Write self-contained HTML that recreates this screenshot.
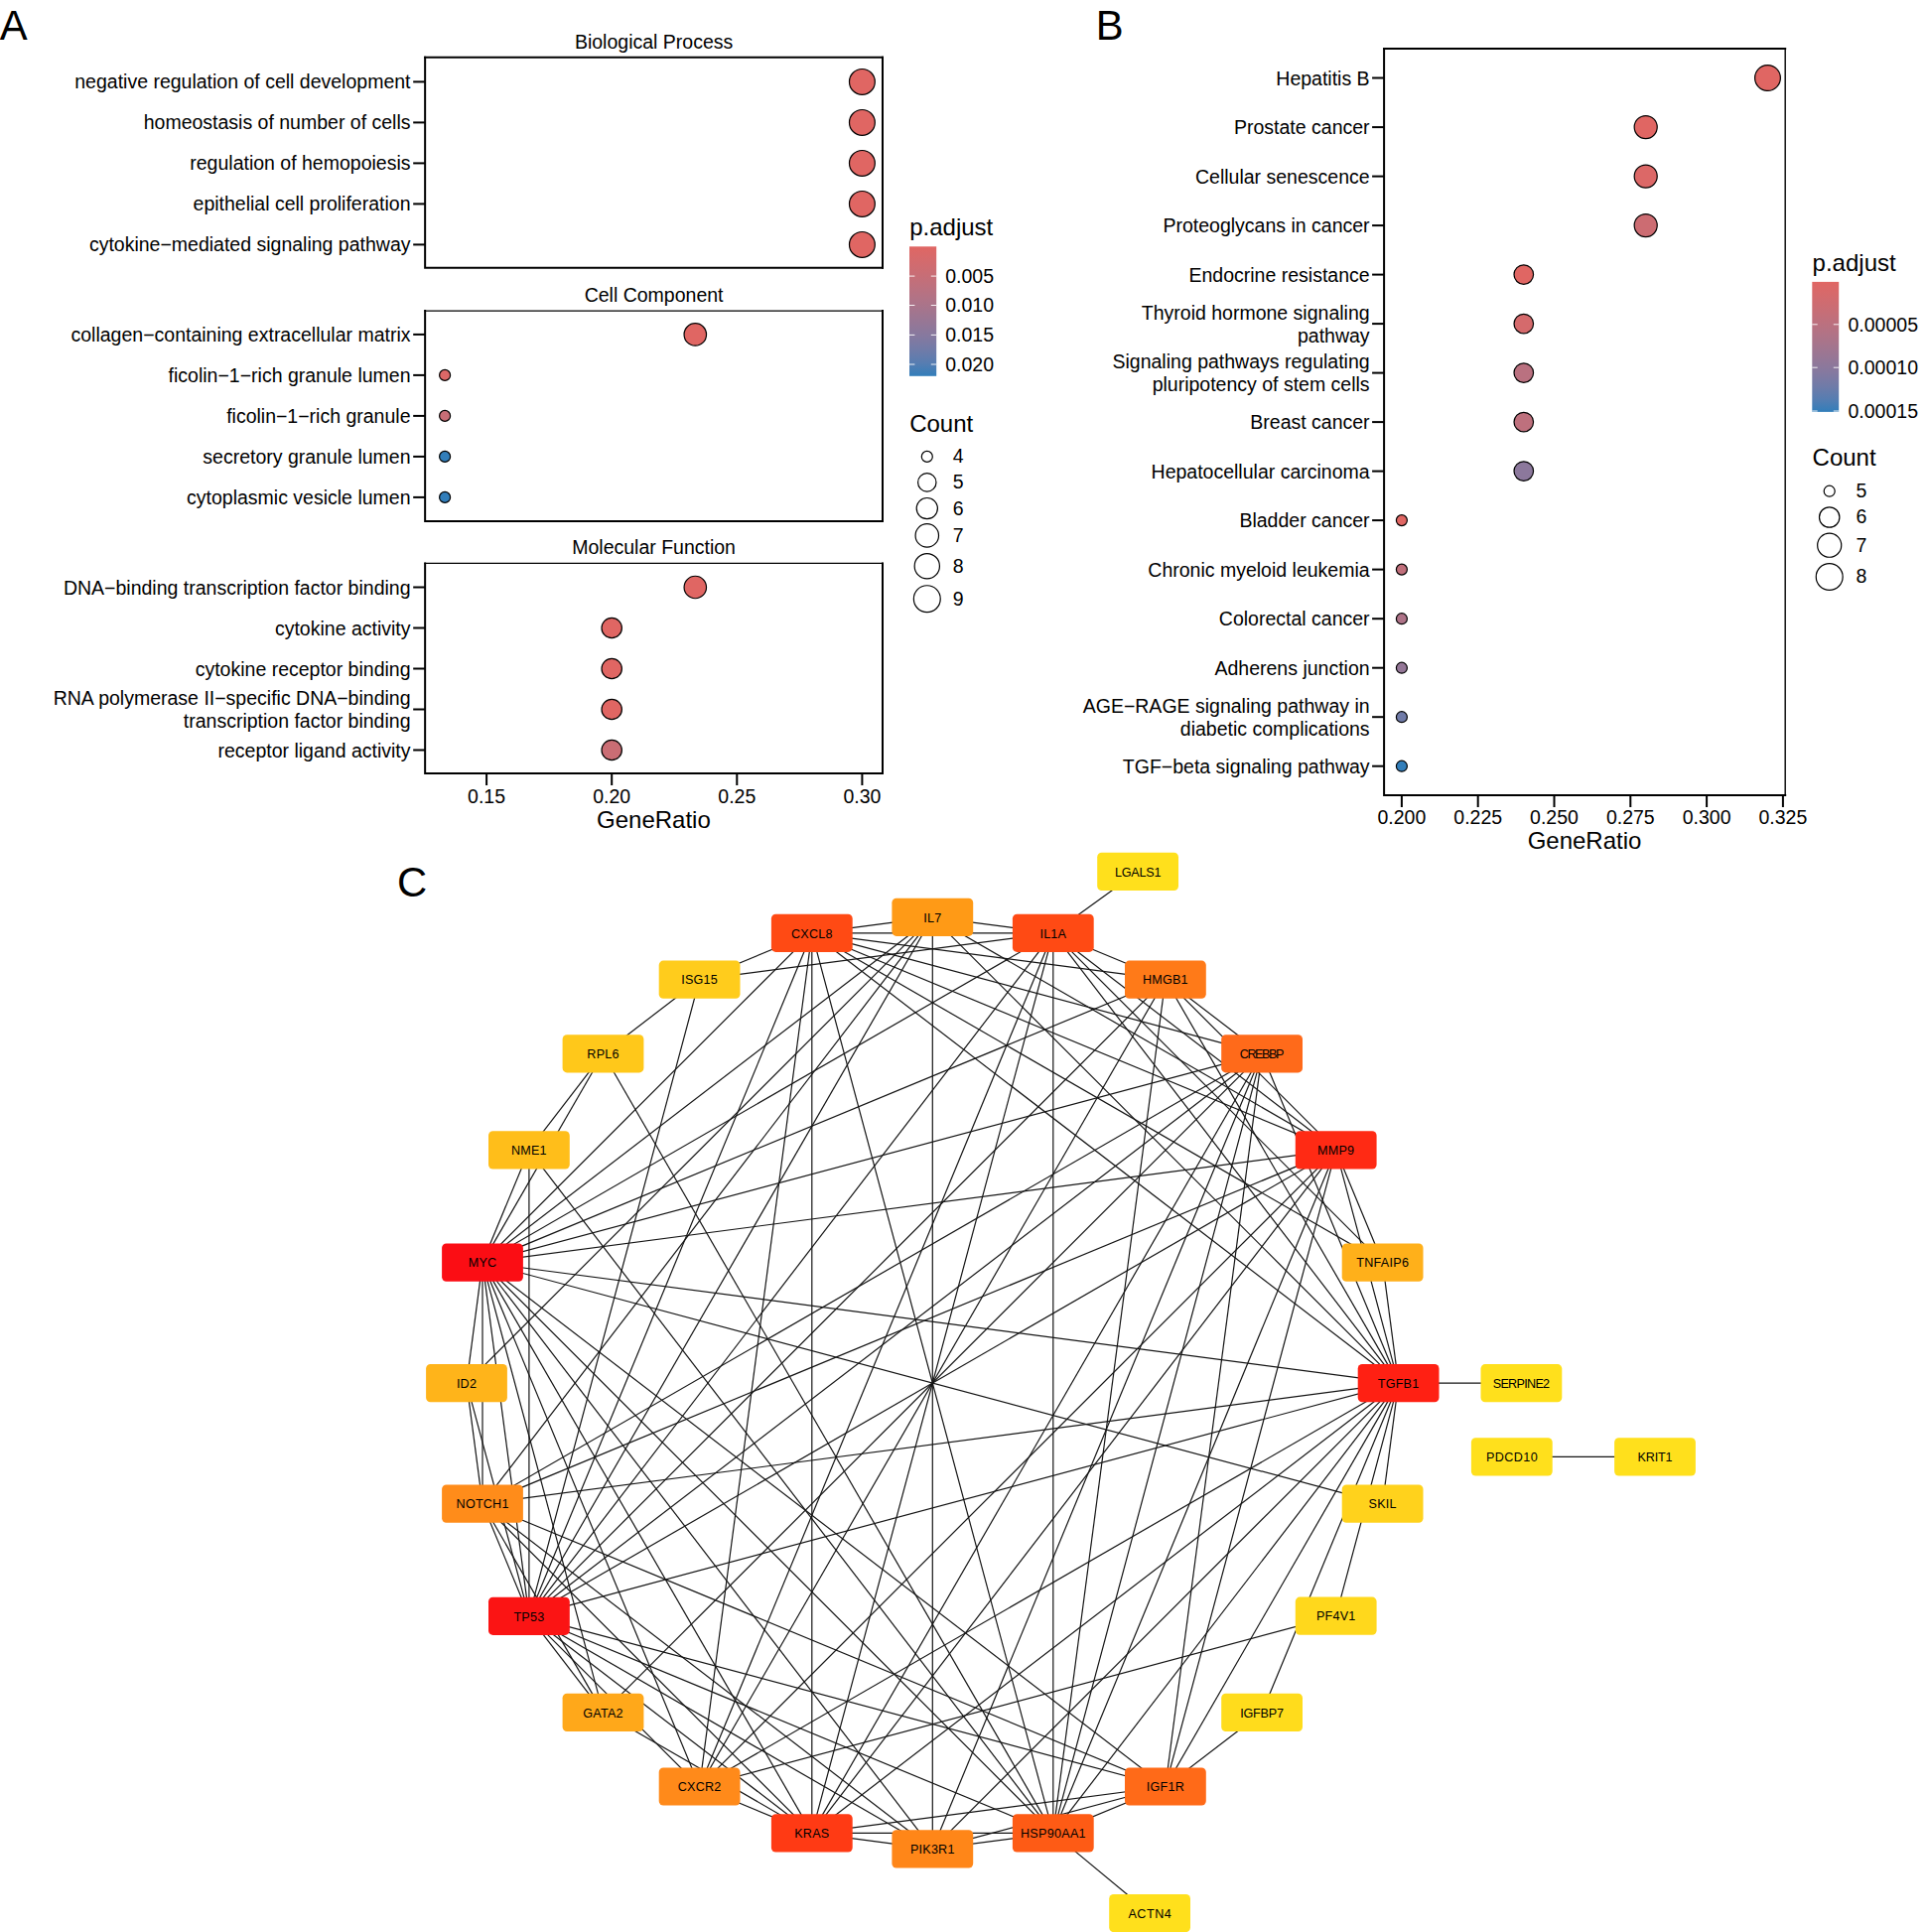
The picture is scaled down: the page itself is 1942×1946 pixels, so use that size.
<!DOCTYPE html>
<html><head><meta charset="utf-8"><title>Figure</title>
<style>html,body{margin:0;padding:0;background:#fff}svg{display:block}text{font-family:"Liberation Sans",Arial,Helvetica,sans-serif;fill:#000}</style>
</head><body>
<svg width="1942" height="1946" viewBox="0 0 1942 1946">
<rect width="1942" height="1946" fill="#fff"/>
<text x="-0.3" y="39.9" font-size="41.8" text-anchor="start" >A</text>
<text x="1103.8" y="39.9" font-size="41.8" text-anchor="start" >B</text>
<text x="400.0" y="903.1" font-size="41.8" text-anchor="start" >C</text>
<path d="M889.00,57.75 H428.15" stroke="#000" stroke-width="2.0" fill="none" stroke-linecap="square"/>
<path d="M889.00,57.75 V269.70" stroke="#000" stroke-width="2.0" fill="none" stroke-linecap="square"/>
<path d="M428.15,57.75 V269.70 H889.00" stroke="#000" stroke-width="2.0" fill="none" stroke-linecap="square" stroke-linejoin="miter"/>
<text x="658.6" y="48.5" font-size="19.5" text-anchor="middle" >Biological Process</text>
<line x1="416.2" y1="82.4" x2="428.1" y2="82.4" stroke="#000" stroke-width="2.0"/>
<text x="413.5" y="88.9" font-size="19.5" text-anchor="end" >negative regulation of cell development</text>
<circle cx="868.4" cy="82.4" r="12.90" fill="#e06663" stroke="#000" stroke-width="1.2"/>
<line x1="416.2" y1="123.4" x2="428.1" y2="123.4" stroke="#000" stroke-width="2.0"/>
<text x="413.5" y="129.9" font-size="19.5" text-anchor="end" >homeostasis of number of cells</text>
<circle cx="868.4" cy="123.4" r="12.90" fill="#e06663" stroke="#000" stroke-width="1.2"/>
<line x1="416.2" y1="164.4" x2="428.1" y2="164.4" stroke="#000" stroke-width="2.0"/>
<text x="413.5" y="170.9" font-size="19.5" text-anchor="end" >regulation of hemopoiesis</text>
<circle cx="868.4" cy="164.4" r="12.90" fill="#e06663" stroke="#000" stroke-width="1.2"/>
<line x1="416.2" y1="205.4" x2="428.1" y2="205.4" stroke="#000" stroke-width="2.0"/>
<text x="413.5" y="211.9" font-size="19.5" text-anchor="end" >epithelial cell proliferation</text>
<circle cx="868.4" cy="205.4" r="12.90" fill="#e06663" stroke="#000" stroke-width="1.2"/>
<line x1="416.2" y1="246.4" x2="428.1" y2="246.4" stroke="#000" stroke-width="2.0"/>
<text x="413.5" y="252.9" font-size="19.5" text-anchor="end" >cytokine−mediated signaling pathway</text>
<circle cx="868.4" cy="246.4" r="12.90" fill="#e06663" stroke="#000" stroke-width="1.2"/>
<path d="M889.00,313.10 H428.15" stroke="#000" stroke-width="1.3" fill="none" stroke-linecap="square"/>
<path d="M889.00,313.10 V524.90" stroke="#000" stroke-width="2.0" fill="none" stroke-linecap="square"/>
<path d="M428.15,313.10 V524.90 H889.00" stroke="#000" stroke-width="2.0" fill="none" stroke-linecap="square" stroke-linejoin="miter"/>
<text x="658.6" y="303.8" font-size="19.5" text-anchor="middle" >Cell Component</text>
<line x1="416.2" y1="336.9" x2="428.1" y2="336.9" stroke="#000" stroke-width="2.0"/>
<text x="413.5" y="343.9" font-size="19.5" text-anchor="end" >collagen−containing extracellular matrix</text>
<circle cx="700.3" cy="336.9" r="11.23" fill="#e06663" stroke="#000" stroke-width="1.2"/>
<line x1="416.2" y1="377.9" x2="428.1" y2="377.9" stroke="#000" stroke-width="2.0"/>
<text x="413.5" y="384.9" font-size="19.5" text-anchor="end" >ficolin−1−rich granule lumen</text>
<circle cx="448.1" cy="377.9" r="5.50" fill="#dc6867" stroke="#000" stroke-width="1.2"/>
<line x1="416.2" y1="418.9" x2="428.1" y2="418.9" stroke="#000" stroke-width="2.0"/>
<text x="413.5" y="425.9" font-size="19.5" text-anchor="end" >ficolin−1−rich granule</text>
<circle cx="448.1" cy="418.9" r="5.50" fill="#c86e76" stroke="#000" stroke-width="1.2"/>
<line x1="416.2" y1="459.9" x2="428.1" y2="459.9" stroke="#000" stroke-width="2.0"/>
<text x="413.5" y="466.9" font-size="19.5" text-anchor="end" >secretory granule lumen</text>
<circle cx="448.1" cy="459.9" r="5.50" fill="#327eba" stroke="#000" stroke-width="1.2"/>
<line x1="416.2" y1="500.9" x2="428.1" y2="500.9" stroke="#000" stroke-width="2.0"/>
<text x="413.5" y="507.9" font-size="19.5" text-anchor="end" >cytoplasmic vesicle lumen</text>
<circle cx="448.1" cy="500.9" r="5.50" fill="#327eba" stroke="#000" stroke-width="1.2"/>
<path d="M889.00,567.40 H428.15" stroke="#000" stroke-width="1.3" fill="none" stroke-linecap="square"/>
<path d="M889.00,567.40 V779.00" stroke="#000" stroke-width="2.0" fill="none" stroke-linecap="square"/>
<path d="M428.15,567.40 V779.00 H889.00" stroke="#000" stroke-width="2.0" fill="none" stroke-linecap="square" stroke-linejoin="miter"/>
<text x="658.6" y="558.1" font-size="19.5" text-anchor="middle" >Molecular Function</text>
<line x1="416.2" y1="591.5" x2="428.1" y2="591.5" stroke="#000" stroke-width="2.0"/>
<text x="413.5" y="598.8" font-size="19.5" text-anchor="end" >DNA−binding transcription factor binding</text>
<circle cx="700.3" cy="591.5" r="11.23" fill="#e06663" stroke="#000" stroke-width="1.2"/>
<line x1="416.2" y1="632.5" x2="428.1" y2="632.5" stroke="#000" stroke-width="2.0"/>
<text x="413.5" y="639.8" font-size="19.5" text-anchor="end" >cytokine activity</text>
<circle cx="616.2" cy="632.5" r="10.18" fill="#e06663" stroke="#000" stroke-width="1.2"/>
<line x1="416.2" y1="673.5" x2="428.1" y2="673.5" stroke="#000" stroke-width="2.0"/>
<text x="413.5" y="680.8" font-size="19.5" text-anchor="end" >cytokine receptor binding</text>
<circle cx="616.2" cy="673.5" r="10.18" fill="#e06663" stroke="#000" stroke-width="1.2"/>
<line x1="416.2" y1="714.5" x2="428.1" y2="714.5" stroke="#000" stroke-width="2.0"/>
<text x="413.5" y="710.3" font-size="19.5" text-anchor="end" >RNA polymerase II−specific DNA−binding</text>
<text x="413.5" y="733.3" font-size="19.5" text-anchor="end" >transcription factor binding</text>
<circle cx="616.2" cy="714.5" r="10.18" fill="#e06663" stroke="#000" stroke-width="1.2"/>
<line x1="416.2" y1="755.5" x2="428.1" y2="755.5" stroke="#000" stroke-width="2.0"/>
<text x="413.5" y="762.8" font-size="19.5" text-anchor="end" >receptor ligand activity</text>
<circle cx="616.2" cy="755.5" r="10.18" fill="#ca6d74" stroke="#000" stroke-width="1.2"/>
<line x1="490.1" y1="779.0" x2="490.1" y2="791.0" stroke="#000" stroke-width="2.0"/>
<text x="490.1" y="808.7" font-size="19.5" text-anchor="middle" >0.15</text>
<line x1="616.2" y1="779.0" x2="616.2" y2="791.0" stroke="#000" stroke-width="2.0"/>
<text x="616.2" y="808.7" font-size="19.5" text-anchor="middle" >0.20</text>
<line x1="742.3" y1="779.0" x2="742.3" y2="791.0" stroke="#000" stroke-width="2.0"/>
<text x="742.3" y="808.7" font-size="19.5" text-anchor="middle" >0.25</text>
<line x1="868.4" y1="779.0" x2="868.4" y2="791.0" stroke="#000" stroke-width="2.0"/>
<text x="868.4" y="808.7" font-size="19.5" text-anchor="middle" >0.30</text>
<text x="658.4" y="833.7" font-size="24.0" text-anchor="middle" >GeneRatio</text>
<defs><linearGradient id="g" x1="0" y1="0" x2="0" y2="1"><stop offset="0.0" stop-color="#e06663"/><stop offset="0.1" stop-color="#d56a6c"/><stop offset="0.2" stop-color="#ca6d74"/><stop offset="0.3" stop-color="#be707d"/><stop offset="0.4" stop-color="#b17386"/><stop offset="0.5" stop-color="#a3758e"/><stop offset="0.6" stop-color="#947797"/><stop offset="0.7" stop-color="#8479a0"/><stop offset="0.8" stop-color="#707ba8"/><stop offset="0.9" stop-color="#577db1"/><stop offset="1.0" stop-color="#327eba"/></linearGradient></defs>
<text x="916.2" y="236.5" font-size="24.0" text-anchor="start" >p.adjust</text>
<rect x="916" y="248.3" width="27.2" height="130.5" fill="url(#g)"/>
<line x1="916" x2="921.4" y1="278.1" y2="278.1" stroke="#fff" stroke-width="0.9"/>
<line x1="937.8" x2="943.2" y1="278.1" y2="278.1" stroke="#fff" stroke-width="0.9"/>
<text x="952.2" y="284.9" font-size="19.5" text-anchor="start" >0.005</text>
<line x1="916" x2="921.4" y1="307.5" y2="307.5" stroke="#fff" stroke-width="0.9"/>
<line x1="937.8" x2="943.2" y1="307.5" y2="307.5" stroke="#fff" stroke-width="0.9"/>
<text x="952.2" y="314.3" font-size="19.5" text-anchor="start" >0.010</text>
<line x1="916" x2="921.4" y1="337.4" y2="337.4" stroke="#fff" stroke-width="0.9"/>
<line x1="937.8" x2="943.2" y1="337.4" y2="337.4" stroke="#fff" stroke-width="0.9"/>
<text x="952.2" y="344.2" font-size="19.5" text-anchor="start" >0.015</text>
<line x1="916" x2="921.4" y1="367.0" y2="367.0" stroke="#fff" stroke-width="0.9"/>
<line x1="937.8" x2="943.2" y1="367.0" y2="367.0" stroke="#fff" stroke-width="0.9"/>
<text x="952.2" y="373.8" font-size="19.5" text-anchor="start" >0.020</text>
<text x="916.2" y="434.6" font-size="24.0" text-anchor="start" >Count</text>
<circle cx="933.8" cy="459.9" r="5.50" fill="#fff" stroke="#000" stroke-width="1.2"/>
<text x="959.8" y="466.3" font-size="19.5" text-anchor="start" >4</text>
<circle cx="933.8" cy="485.9" r="9.19" fill="#fff" stroke="#000" stroke-width="1.2"/>
<text x="959.8" y="492.3" font-size="19.5" text-anchor="start" >5</text>
<circle cx="933.8" cy="512.1" r="10.61" fill="#fff" stroke="#000" stroke-width="1.2"/>
<text x="959.8" y="518.5" font-size="19.5" text-anchor="start" >6</text>
<circle cx="933.8" cy="539.4" r="11.71" fill="#fff" stroke="#000" stroke-width="1.2"/>
<text x="959.8" y="545.8" font-size="19.5" text-anchor="start" >7</text>
<circle cx="933.8" cy="570.2" r="12.63" fill="#fff" stroke="#000" stroke-width="1.2"/>
<text x="959.8" y="576.6" font-size="19.5" text-anchor="start" >8</text>
<circle cx="933.8" cy="603.2" r="13.44" fill="#fff" stroke="#000" stroke-width="1.2"/>
<text x="959.8" y="609.6" font-size="19.5" text-anchor="start" >9</text>
<path d="M1798.20,48.90 H1394.10" stroke="#000" stroke-width="2.0" fill="none" stroke-linecap="square"/>
<path d="M1798.20,48.90 V801.00" stroke="#000" stroke-width="1.4" fill="none" stroke-linecap="square"/>
<path d="M1394.10,48.90 V801.00 H1798.20" stroke="#000" stroke-width="2.0" fill="none" stroke-linecap="square" stroke-linejoin="miter"/>
<line x1="1382.1" y1="78.5" x2="1394.1" y2="78.5" stroke="#000" stroke-width="2.0"/>
<text x="1379.6" y="85.5" font-size="19.5" text-anchor="end" >Hepatitis B</text>
<circle cx="1780.5" cy="78.5" r="12.90" fill="#e06663" stroke="#000" stroke-width="1.2"/>
<line x1="1382.1" y1="128.1" x2="1394.1" y2="128.1" stroke="#000" stroke-width="2.0"/>
<text x="1379.6" y="135.1" font-size="19.5" text-anchor="end" >Prostate cancer</text>
<circle cx="1657.7" cy="128.1" r="11.54" fill="#e06663" stroke="#000" stroke-width="1.2"/>
<line x1="1382.1" y1="177.6" x2="1394.1" y2="177.6" stroke="#000" stroke-width="2.0"/>
<text x="1379.6" y="184.6" font-size="19.5" text-anchor="end" >Cellular senescence</text>
<circle cx="1657.7" cy="177.6" r="11.54" fill="#dc6867" stroke="#000" stroke-width="1.2"/>
<line x1="1382.1" y1="227.1" x2="1394.1" y2="227.1" stroke="#000" stroke-width="2.0"/>
<text x="1379.6" y="234.1" font-size="19.5" text-anchor="end" >Proteoglycans in cancer</text>
<circle cx="1657.7" cy="227.1" r="11.54" fill="#cc6c72" stroke="#000" stroke-width="1.2"/>
<line x1="1382.1" y1="276.6" x2="1394.1" y2="276.6" stroke="#000" stroke-width="2.0"/>
<text x="1379.6" y="283.6" font-size="19.5" text-anchor="end" >Endocrine resistance</text>
<circle cx="1534.8" cy="276.6" r="9.77" fill="#e06663" stroke="#000" stroke-width="1.2"/>
<line x1="1382.1" y1="326.1" x2="1394.1" y2="326.1" stroke="#000" stroke-width="2.0"/>
<text x="1379.6" y="321.6" font-size="19.5" text-anchor="end" >Thyroid hormone signaling</text>
<text x="1379.6" y="344.6" font-size="19.5" text-anchor="end" >pathway</text>
<circle cx="1534.8" cy="326.1" r="9.77" fill="#d56a6c" stroke="#000" stroke-width="1.2"/>
<line x1="1382.1" y1="375.6" x2="1394.1" y2="375.6" stroke="#000" stroke-width="2.0"/>
<text x="1379.6" y="371.1" font-size="19.5" text-anchor="end" >Signaling pathways regulating</text>
<text x="1379.6" y="394.1" font-size="19.5" text-anchor="end" >pluripotency of stem cells</text>
<circle cx="1534.8" cy="375.6" r="9.77" fill="#ba7180" stroke="#000" stroke-width="1.2"/>
<line x1="1382.1" y1="425.1" x2="1394.1" y2="425.1" stroke="#000" stroke-width="2.0"/>
<text x="1379.6" y="432.1" font-size="19.5" text-anchor="end" >Breast cancer</text>
<circle cx="1534.8" cy="425.1" r="9.77" fill="#be707d" stroke="#000" stroke-width="1.2"/>
<line x1="1382.1" y1="474.6" x2="1394.1" y2="474.6" stroke="#000" stroke-width="2.0"/>
<text x="1379.6" y="481.6" font-size="19.5" text-anchor="end" >Hepatocellular carcinoma</text>
<circle cx="1534.8" cy="474.6" r="9.77" fill="#8c789c" stroke="#000" stroke-width="1.2"/>
<line x1="1382.1" y1="524.1" x2="1394.1" y2="524.1" stroke="#000" stroke-width="2.0"/>
<text x="1379.6" y="531.1" font-size="19.5" text-anchor="end" >Bladder cancer</text>
<circle cx="1411.9" cy="524.1" r="5.50" fill="#e06663" stroke="#000" stroke-width="1.2"/>
<line x1="1382.1" y1="573.6" x2="1394.1" y2="573.6" stroke="#000" stroke-width="2.0"/>
<text x="1379.6" y="580.6" font-size="19.5" text-anchor="end" >Chronic myeloid leukemia</text>
<circle cx="1411.9" cy="573.6" r="5.50" fill="#c06f7b" stroke="#000" stroke-width="1.2"/>
<line x1="1382.1" y1="623.2" x2="1394.1" y2="623.2" stroke="#000" stroke-width="2.0"/>
<text x="1379.6" y="630.2" font-size="19.5" text-anchor="end" >Colorectal cancer</text>
<circle cx="1411.9" cy="623.2" r="5.50" fill="#ae7388" stroke="#000" stroke-width="1.2"/>
<line x1="1382.1" y1="672.7" x2="1394.1" y2="672.7" stroke="#000" stroke-width="2.0"/>
<text x="1379.6" y="679.7" font-size="19.5" text-anchor="end" >Adherens junction</text>
<circle cx="1411.9" cy="672.7" r="5.50" fill="#947797" stroke="#000" stroke-width="1.2"/>
<line x1="1382.1" y1="722.2" x2="1394.1" y2="722.2" stroke="#000" stroke-width="2.0"/>
<text x="1379.6" y="717.7" font-size="19.5" text-anchor="end" >AGE−RAGE signaling pathway in</text>
<text x="1379.6" y="740.7" font-size="19.5" text-anchor="end" >diabetic complications</text>
<circle cx="1411.9" cy="722.2" r="5.50" fill="#707ba8" stroke="#000" stroke-width="1.2"/>
<line x1="1382.1" y1="771.7" x2="1394.1" y2="771.7" stroke="#000" stroke-width="2.0"/>
<text x="1379.6" y="778.7" font-size="19.5" text-anchor="end" >TGF−beta signaling pathway</text>
<circle cx="1411.9" cy="771.7" r="5.50" fill="#327eba" stroke="#000" stroke-width="1.2"/>
<line x1="1411.9" y1="801.0" x2="1411.9" y2="813.0" stroke="#000" stroke-width="2.0"/>
<text x="1411.9" y="830.0" font-size="19.5" text-anchor="middle" >0.200</text>
<line x1="1488.7" y1="801.0" x2="1488.7" y2="813.0" stroke="#000" stroke-width="2.0"/>
<text x="1488.7" y="830.0" font-size="19.5" text-anchor="middle" >0.225</text>
<line x1="1565.5" y1="801.0" x2="1565.5" y2="813.0" stroke="#000" stroke-width="2.0"/>
<text x="1565.5" y="830.0" font-size="19.5" text-anchor="middle" >0.250</text>
<line x1="1642.3" y1="801.0" x2="1642.3" y2="813.0" stroke="#000" stroke-width="2.0"/>
<text x="1642.3" y="830.0" font-size="19.5" text-anchor="middle" >0.275</text>
<line x1="1719.1" y1="801.0" x2="1719.1" y2="813.0" stroke="#000" stroke-width="2.0"/>
<text x="1719.1" y="830.0" font-size="19.5" text-anchor="middle" >0.300</text>
<line x1="1795.9" y1="801.0" x2="1795.9" y2="813.0" stroke="#000" stroke-width="2.0"/>
<text x="1795.9" y="830.0" font-size="19.5" text-anchor="middle" >0.325</text>
<text x="1596.0" y="855.0" font-size="24.0" text-anchor="middle" >GeneRatio</text>
<text x="1825.6" y="272.7" font-size="24.0" text-anchor="start" >p.adjust</text>
<rect x="1825.3" y="283.9" width="26.9" height="131" fill="url(#g)"/>
<line x1="1825.3" x2="1830.7" y1="326.8" y2="326.8" stroke="#fff" stroke-width="0.9"/>
<line x1="1846.8" x2="1852.2" y1="326.8" y2="326.8" stroke="#fff" stroke-width="0.9"/>
<text x="1861.5" y="333.6" font-size="19.5" text-anchor="start" >0.00005</text>
<line x1="1825.3" x2="1830.7" y1="370.2" y2="370.2" stroke="#fff" stroke-width="0.9"/>
<line x1="1846.8" x2="1852.2" y1="370.2" y2="370.2" stroke="#fff" stroke-width="0.9"/>
<text x="1861.5" y="377.0" font-size="19.5" text-anchor="start" >0.00010</text>
<line x1="1825.3" x2="1830.7" y1="414.0" y2="414.0" stroke="#fff" stroke-width="0.9"/>
<line x1="1846.8" x2="1852.2" y1="414.0" y2="414.0" stroke="#fff" stroke-width="0.9"/>
<text x="1861.5" y="420.8" font-size="19.5" text-anchor="start" >0.00015</text>
<text x="1825.6" y="469.2" font-size="24.0" text-anchor="start" >Count</text>
<circle cx="1842.7" cy="494.7" r="5.50" fill="#fff" stroke="#000" stroke-width="1.2"/>
<text x="1869.4" y="501.1" font-size="19.5" text-anchor="start" >5</text>
<circle cx="1842.7" cy="521.0" r="10.19" fill="#fff" stroke="#000" stroke-width="1.2"/>
<text x="1869.4" y="527.4" font-size="19.5" text-anchor="start" >6</text>
<circle cx="1842.7" cy="549.2" r="12.03" fill="#fff" stroke="#000" stroke-width="1.2"/>
<text x="1869.4" y="555.6" font-size="19.5" text-anchor="start" >7</text>
<circle cx="1842.7" cy="581.0" r="13.44" fill="#fff" stroke="#000" stroke-width="1.2"/>
<text x="1869.4" y="587.4" font-size="19.5" text-anchor="start" >8</text>
<g stroke="#151515" stroke-width="1.2">
<line x1="1158.1" y1="1927.0" x2="1060.8" y2="1846.4"/>
<line x1="1271.1" y1="1061.3" x2="817.8" y2="939.8"/>
<line x1="1271.1" y1="1061.3" x2="607.5" y2="1724.9"/>
<line x1="1271.1" y1="1061.3" x2="1173.9" y2="986.7"/>
<line x1="1271.1" y1="1061.3" x2="1060.8" y2="1846.4"/>
<line x1="1271.1" y1="1061.3" x2="1173.9" y2="1799.5"/>
<line x1="1271.1" y1="1061.3" x2="817.8" y2="1846.4"/>
<line x1="1271.1" y1="1061.3" x2="486.0" y2="1271.6"/>
<line x1="1271.1" y1="1061.3" x2="486.0" y2="1514.6"/>
<line x1="1271.1" y1="1061.3" x2="939.3" y2="1862.4"/>
<line x1="1271.1" y1="1061.3" x2="1408.6" y2="1393.1"/>
<line x1="1271.1" y1="1061.3" x2="532.9" y2="1627.8"/>
<line x1="817.8" y1="939.8" x2="704.6" y2="1799.5"/>
<line x1="817.8" y1="939.8" x2="1173.9" y2="986.7"/>
<line x1="817.8" y1="939.8" x2="1060.8" y2="1846.4"/>
<line x1="817.8" y1="939.8" x2="1060.8" y2="939.8"/>
<line x1="817.8" y1="939.8" x2="939.3" y2="923.8"/>
<line x1="817.8" y1="939.8" x2="704.6" y2="986.7"/>
<line x1="817.8" y1="939.8" x2="817.8" y2="1846.4"/>
<line x1="817.8" y1="939.8" x2="1345.7" y2="1158.4"/>
<line x1="817.8" y1="939.8" x2="486.0" y2="1271.6"/>
<line x1="817.8" y1="939.8" x2="1408.6" y2="1393.1"/>
<line x1="817.8" y1="939.8" x2="1392.6" y2="1271.6"/>
<line x1="817.8" y1="939.8" x2="532.9" y2="1627.8"/>
<line x1="704.6" y1="1799.5" x2="1173.9" y2="986.7"/>
<line x1="704.6" y1="1799.5" x2="1060.8" y2="939.8"/>
<line x1="704.6" y1="1799.5" x2="817.8" y2="1846.4"/>
<line x1="704.6" y1="1799.5" x2="1345.7" y2="1158.4"/>
<line x1="704.6" y1="1799.5" x2="486.0" y2="1271.6"/>
<line x1="704.6" y1="1799.5" x2="1345.7" y2="1627.7"/>
<line x1="704.6" y1="1799.5" x2="1408.6" y2="1393.1"/>
<line x1="704.6" y1="1799.5" x2="532.9" y2="1627.8"/>
<line x1="607.5" y1="1724.9" x2="817.8" y2="1846.4"/>
<line x1="607.5" y1="1724.9" x2="486.0" y2="1271.6"/>
<line x1="607.5" y1="1724.9" x2="486.0" y2="1514.6"/>
<line x1="607.5" y1="1724.9" x2="532.9" y2="1627.8"/>
<line x1="1173.9" y1="986.7" x2="1060.8" y2="1846.4"/>
<line x1="1173.9" y1="986.7" x2="1060.8" y2="939.8"/>
<line x1="1173.9" y1="986.7" x2="1345.7" y2="1158.4"/>
<line x1="1173.9" y1="986.7" x2="486.0" y2="1271.6"/>
<line x1="1173.9" y1="986.7" x2="1408.6" y2="1393.1"/>
<line x1="1173.9" y1="986.7" x2="532.9" y2="1627.8"/>
<line x1="1060.8" y1="1846.4" x2="1173.9" y2="1799.5"/>
<line x1="1060.8" y1="1846.4" x2="1060.8" y2="939.8"/>
<line x1="1060.8" y1="1846.4" x2="817.8" y2="1846.4"/>
<line x1="1060.8" y1="1846.4" x2="1345.7" y2="1158.4"/>
<line x1="1060.8" y1="1846.4" x2="486.0" y2="1271.6"/>
<line x1="1060.8" y1="1846.4" x2="532.9" y2="1158.4"/>
<line x1="1060.8" y1="1846.4" x2="939.3" y2="1862.4"/>
<line x1="1060.8" y1="1846.4" x2="607.5" y2="1061.3"/>
<line x1="1060.8" y1="1846.4" x2="1408.6" y2="1393.1"/>
<line x1="1060.8" y1="1846.4" x2="532.9" y2="1627.8"/>
<line x1="470.0" y1="1393.1" x2="939.3" y2="923.8"/>
<line x1="470.0" y1="1393.1" x2="486.0" y2="1271.6"/>
<line x1="470.0" y1="1393.1" x2="486.0" y2="1514.6"/>
<line x1="470.0" y1="1393.1" x2="532.9" y2="1627.8"/>
<line x1="1173.9" y1="1799.5" x2="1271.1" y2="1724.9"/>
<line x1="1173.9" y1="1799.5" x2="817.8" y2="1846.4"/>
<line x1="1173.9" y1="1799.5" x2="1345.7" y2="1158.4"/>
<line x1="1173.9" y1="1799.5" x2="486.0" y2="1271.6"/>
<line x1="1173.9" y1="1799.5" x2="486.0" y2="1514.6"/>
<line x1="1173.9" y1="1799.5" x2="939.3" y2="1862.4"/>
<line x1="1173.9" y1="1799.5" x2="1408.6" y2="1393.1"/>
<line x1="1173.9" y1="1799.5" x2="532.9" y2="1627.8"/>
<line x1="1271.1" y1="1724.9" x2="1408.6" y2="1393.1"/>
<line x1="1060.8" y1="939.8" x2="939.3" y2="923.8"/>
<line x1="1060.8" y1="939.8" x2="704.6" y2="986.7"/>
<line x1="1060.8" y1="939.8" x2="817.8" y2="1846.4"/>
<line x1="1060.8" y1="939.8" x2="1146.2" y2="877.9"/>
<line x1="1060.8" y1="939.8" x2="1345.7" y2="1158.4"/>
<line x1="1060.8" y1="939.8" x2="486.0" y2="1271.6"/>
<line x1="1060.8" y1="939.8" x2="1408.6" y2="1393.1"/>
<line x1="1060.8" y1="939.8" x2="1392.6" y2="1271.6"/>
<line x1="1060.8" y1="939.8" x2="532.9" y2="1627.8"/>
<line x1="939.3" y1="923.8" x2="1345.7" y2="1158.4"/>
<line x1="939.3" y1="923.8" x2="486.0" y2="1271.6"/>
<line x1="939.3" y1="923.8" x2="486.0" y2="1514.6"/>
<line x1="939.3" y1="923.8" x2="939.3" y2="1862.4"/>
<line x1="939.3" y1="923.8" x2="1408.6" y2="1393.1"/>
<line x1="939.3" y1="923.8" x2="532.9" y2="1627.8"/>
<line x1="704.6" y1="986.7" x2="607.5" y2="1061.3"/>
<line x1="704.6" y1="986.7" x2="532.9" y2="1627.8"/>
<line x1="817.8" y1="1846.4" x2="1345.7" y2="1158.4"/>
<line x1="817.8" y1="1846.4" x2="486.0" y2="1271.6"/>
<line x1="817.8" y1="1846.4" x2="486.0" y2="1514.6"/>
<line x1="817.8" y1="1846.4" x2="939.3" y2="1862.4"/>
<line x1="817.8" y1="1846.4" x2="1408.6" y2="1393.1"/>
<line x1="817.8" y1="1846.4" x2="532.9" y2="1627.8"/>
<line x1="1667.0" y1="1467.4" x2="1522.8" y2="1467.4"/>
<line x1="1345.7" y1="1158.4" x2="486.0" y2="1271.6"/>
<line x1="1345.7" y1="1158.4" x2="486.0" y2="1514.6"/>
<line x1="1345.7" y1="1158.4" x2="1408.6" y2="1393.1"/>
<line x1="1345.7" y1="1158.4" x2="1392.6" y2="1271.6"/>
<line x1="1345.7" y1="1158.4" x2="532.9" y2="1627.8"/>
<line x1="486.0" y1="1271.6" x2="532.9" y2="1158.4"/>
<line x1="486.0" y1="1271.6" x2="486.0" y2="1514.6"/>
<line x1="486.0" y1="1271.6" x2="939.3" y2="1862.4"/>
<line x1="486.0" y1="1271.6" x2="607.5" y2="1061.3"/>
<line x1="486.0" y1="1271.6" x2="1392.6" y2="1514.6"/>
<line x1="486.0" y1="1271.6" x2="1408.6" y2="1393.1"/>
<line x1="486.0" y1="1271.6" x2="532.9" y2="1627.8"/>
<line x1="532.9" y1="1158.4" x2="607.5" y2="1061.3"/>
<line x1="532.9" y1="1158.4" x2="532.9" y2="1627.8"/>
<line x1="486.0" y1="1514.6" x2="939.3" y2="1862.4"/>
<line x1="486.0" y1="1514.6" x2="1408.6" y2="1393.1"/>
<line x1="486.0" y1="1514.6" x2="532.9" y2="1627.8"/>
<line x1="1345.7" y1="1627.7" x2="1408.6" y2="1393.1"/>
<line x1="939.3" y1="1862.4" x2="1408.6" y2="1393.1"/>
<line x1="939.3" y1="1862.4" x2="532.9" y2="1627.8"/>
<line x1="1532.4" y1="1393.2" x2="1408.6" y2="1393.1"/>
<line x1="1392.6" y1="1514.6" x2="1408.6" y2="1393.1"/>
<line x1="1408.6" y1="1393.1" x2="1392.6" y2="1271.6"/>
<line x1="1408.6" y1="1393.1" x2="532.9" y2="1627.8"/>
</g>
<rect x="898.4" y="904.7" width="81.8" height="38.2" rx="4.5" fill="#ff9a16"/>
<text x="939.3" y="928.5" font-size="12.6" text-anchor="middle" letter-spacing="0.2">IL7</text>
<rect x="1019.9" y="920.7" width="81.8" height="38.2" rx="4.5" fill="#ff4a14"/>
<text x="1060.8" y="944.5" font-size="12.6" text-anchor="middle" letter-spacing="0.2">IL1A</text>
<rect x="1133.0" y="967.6" width="81.8" height="38.2" rx="4.5" fill="#ff7a18"/>
<text x="1173.9" y="991.4" font-size="12.6" text-anchor="middle" letter-spacing="0.2">HMGB1</text>
<rect x="1230.2" y="1042.2" width="81.8" height="38.2" rx="4.5" fill="#ff6a1a"/>
<text x="1271.1" y="1066.0" font-size="12.6" text-anchor="middle" textLength="44.6" lengthAdjust="spacing">CREBBP</text>
<rect x="1304.8" y="1139.3" width="81.8" height="38.2" rx="4.5" fill="#ff2a14"/>
<text x="1345.7" y="1163.1" font-size="12.6" text-anchor="middle" letter-spacing="0.2">MMP9</text>
<rect x="1351.7" y="1252.5" width="81.8" height="38.2" rx="4.5" fill="#ffb01a"/>
<text x="1392.6" y="1276.3" font-size="12.6" text-anchor="middle" textLength="52.8" lengthAdjust="spacing">TNFAIP6</text>
<rect x="1367.7" y="1374.0" width="81.8" height="38.2" rx="4.5" fill="#ff2013"/>
<text x="1408.6" y="1397.8" font-size="12.6" text-anchor="middle" letter-spacing="0.2">TGFB1</text>
<rect x="1351.7" y="1495.5" width="81.8" height="38.2" rx="4.5" fill="#ffd21c"/>
<text x="1392.6" y="1519.3" font-size="12.6" text-anchor="middle" letter-spacing="0.2">SKIL</text>
<rect x="1304.8" y="1608.6" width="81.8" height="38.2" rx="4.5" fill="#ffd81c"/>
<text x="1345.7" y="1632.4" font-size="12.6" text-anchor="middle" letter-spacing="0.2">PF4V1</text>
<rect x="1230.2" y="1705.8" width="81.8" height="38.2" rx="4.5" fill="#ffdc1c"/>
<text x="1271.1" y="1729.6" font-size="12.6" text-anchor="middle" textLength="43.8" lengthAdjust="spacing">IGFBP7</text>
<rect x="1133.0" y="1780.4" width="81.8" height="38.2" rx="4.5" fill="#ff6a18"/>
<text x="1173.9" y="1804.2" font-size="12.6" text-anchor="middle" letter-spacing="0.2">IGF1R</text>
<rect x="1019.9" y="1827.3" width="81.8" height="38.2" rx="4.5" fill="#fe5b15"/>
<text x="1060.8" y="1851.1" font-size="12.6" text-anchor="middle" textLength="65.6" lengthAdjust="spacing">HSP90AA1</text>
<rect x="898.4" y="1843.3" width="81.8" height="38.2" rx="4.5" fill="#ff8618"/>
<text x="939.3" y="1867.1" font-size="12.6" text-anchor="middle" letter-spacing="0.2">PIK3R1</text>
<rect x="776.9" y="1827.3" width="81.8" height="38.2" rx="4.5" fill="#ff3a14"/>
<text x="817.8" y="1851.1" font-size="12.6" text-anchor="middle" letter-spacing="0.2">KRAS</text>
<rect x="663.7" y="1780.4" width="81.8" height="38.2" rx="4.5" fill="#ff8a1a"/>
<text x="704.6" y="1804.2" font-size="12.6" text-anchor="middle" letter-spacing="0.2">CXCR2</text>
<rect x="566.6" y="1705.8" width="81.8" height="38.2" rx="4.5" fill="#ffa81a"/>
<text x="607.5" y="1729.6" font-size="12.6" text-anchor="middle" letter-spacing="0.2">GATA2</text>
<rect x="492.0" y="1608.7" width="81.8" height="38.2" rx="4.5" fill="#fb1414"/>
<text x="532.9" y="1632.5" font-size="12.6" text-anchor="middle" letter-spacing="0.2">TP53</text>
<rect x="445.1" y="1495.5" width="81.8" height="38.2" rx="4.5" fill="#ff8c1a"/>
<text x="486.0" y="1519.3" font-size="12.6" text-anchor="middle" textLength="52.8" lengthAdjust="spacing">NOTCH1</text>
<rect x="429.1" y="1374.0" width="81.8" height="38.2" rx="4.5" fill="#ffb41a"/>
<text x="470.0" y="1397.8" font-size="12.6" text-anchor="middle" letter-spacing="0.2">ID2</text>
<rect x="445.1" y="1252.5" width="81.8" height="38.2" rx="4.5" fill="#fb0d14"/>
<text x="486.0" y="1276.3" font-size="12.6" text-anchor="middle" letter-spacing="0.2">MYC</text>
<rect x="492.0" y="1139.3" width="81.8" height="38.2" rx="4.5" fill="#ffbe1a"/>
<text x="532.9" y="1163.1" font-size="12.6" text-anchor="middle" letter-spacing="0.2">NME1</text>
<rect x="566.6" y="1042.2" width="81.8" height="38.2" rx="4.5" fill="#ffc81a"/>
<text x="607.5" y="1066.0" font-size="12.6" text-anchor="middle" letter-spacing="0.2">RPL6</text>
<rect x="663.7" y="967.6" width="81.8" height="38.2" rx="4.5" fill="#ffcc1c"/>
<text x="704.6" y="991.4" font-size="12.6" text-anchor="middle" letter-spacing="0.2">ISG15</text>
<rect x="776.9" y="920.7" width="81.8" height="38.2" rx="4.5" fill="#ff4a14"/>
<text x="817.8" y="944.5" font-size="12.6" text-anchor="middle" letter-spacing="0.2">CXCL8</text>
<rect x="1105.2" y="858.8" width="81.8" height="38.2" rx="4.5" fill="#ffe01c"/>
<text x="1146.2" y="882.6" font-size="12.6" text-anchor="middle" textLength="46.4" lengthAdjust="spacing">LGALS1</text>
<rect x="1491.5" y="1374.1" width="81.8" height="38.2" rx="4.5" fill="#ffe01c"/>
<text x="1532.4" y="1397.9" font-size="12.6" text-anchor="middle" textLength="57.4" lengthAdjust="spacing">SERPINE2</text>
<rect x="1481.9" y="1448.3" width="81.8" height="38.2" rx="4.5" fill="#ffe01c"/>
<text x="1522.8" y="1472.1" font-size="12.6" text-anchor="middle" textLength="51.8" lengthAdjust="spacing">PDCD10</text>
<rect x="1626.1" y="1448.3" width="81.8" height="38.2" rx="4.5" fill="#ffe01c"/>
<text x="1667.0" y="1472.1" font-size="12.6" text-anchor="middle" textLength="34.9" lengthAdjust="spacing">KRIT1</text>
<rect x="1117.2" y="1907.9" width="81.8" height="38.2" rx="4.5" fill="#ffe01c"/>
<text x="1158.1" y="1931.7" font-size="12.6" text-anchor="middle" textLength="43.4" lengthAdjust="spacing">ACTN4</text>
</svg>
</body></html>
